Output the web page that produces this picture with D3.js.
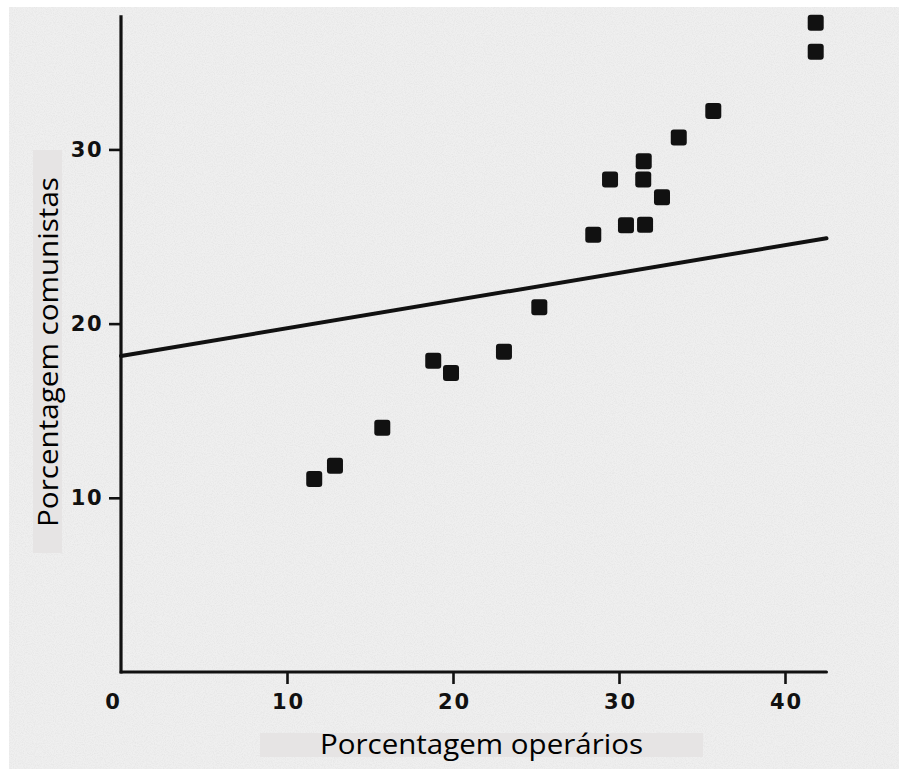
<!DOCTYPE html>
<html>
<head>
<meta charset="utf-8">
<script src="https://cdn.jsdelivr.net/npm/d3@7"></script>
<style>
html,body{margin:0;padding:0;background:#fff;}
svg{display:block;}
</style>
</head>
<body>
<div id="chart"></div>
<script>
// ---- data ----
const xTicks = [0, 10, 20, 30, 40];
const yTicks = [10, 20, 30];
const operarios = [41.85, 41.85, 35.68, 33.60, 31.49, 29.46, 31.46, 32.59, 28.45, 30.42, 31.57, 25.20, 23.07, 18.81, 19.88, 15.74, 12.89, 11.64];
const comunistas = [37.27, 35.61, 32.20, 30.69, 29.32, 28.28, 28.28, 27.25, 25.10, 25.64, 25.68, 20.94, 18.39, 17.87, 17.16, 14.02, 11.84, 11.08];
const fitX = [0, 42.5];
const fitY = [18.14, 24.9];
const xTitle = "Porcentagem operários";
const yTitle = "Porcentagem comunistas";

const W = 899, H = 769;
const svg = d3.select("#chart").append("svg").attr("width", W).attr("height", H);

// paper background
const defs = svg.append("defs");
const f = defs.append("filter").attr("id","paper").attr("x",0).attr("y",0).attr("width","100%").attr("height","100%");
f.append("feTurbulence").attr("type","fractalNoise").attr("baseFrequency","0.9").attr("numOctaves",2).attr("seed",3).attr("result","n");
f.append("feColorMatrix").attr("in","n").attr("type","matrix")
  .attr("values","0 0 0 0 0.55  0 0 0 0 0.55  0 0 0 0 0.55  0 0 0 -1.2 0.75").attr("result","m");
f.append("feComposite").attr("in","m").attr("in2","SourceGraphic").attr("operator","in");

svg.append("rect").attr("x",9).attr("y",7).attr("width",W-9).attr("height",H-7).attr("fill","#efefef");
svg.append("rect").attr("x",9).attr("y",7).attr("width",W-9).attr("height",H-7).attr("fill","#efefef").attr("filter","url(#paper)").attr("opacity",0.35);

const x = d3.scaleLinear().domain([0, 42.5]).range([121, 826.5]);
const y = d3.scaleLinear().domain([0, 37.7]).range([672, 15.3]);

const ink = "#111";

// axes lines
svg.append("line").attr("x1", x(0)).attr("x2", x(0)).attr("y1", y(37.7)).attr("y2", y(0)+1.5)
  .attr("stroke", ink).attr("stroke-width", 3.2);
svg.append("line").attr("x1", x(0)).attr("x2", x(42.5)).attr("y1", y(0)).attr("y2", y(0))
  .attr("stroke", ink).attr("stroke-width", 3).attr("stroke-linecap","round");

// y axis ticks
const yAxis = d3.axisLeft(y).tickValues(yTicks).tickSize(12).tickPadding(6).tickFormat(d3.format("d"));
const gy = svg.append("g").attr("transform", `translate(${x(0)},0)`).call(yAxis);
gy.select(".domain").remove();
gy.selectAll(".tick line").attr("stroke", ink).attr("stroke-width", 2.6);
gy.selectAll(".tick text").attr("fill", ink).attr("font-family","'DejaVu Sans', sans-serif")
  .attr("font-weight","bold").attr("font-size", 21).attr("letter-spacing", 1.5).attr("dx", 0);

// x axis ticks
const xAxis = d3.axisBottom(x).tickValues(xTicks).tickSize(12).tickPadding(10).tickFormat(d3.format("d"));
const gx = svg.append("g").attr("transform", `translate(0,${y(0)})`).call(xAxis);
gx.select(".domain").remove();
gx.selectAll(".tick line").attr("stroke", ink).attr("stroke-width", 2.6)
  .attr("opacity", d => d === 0 ? 0 : 1);
gx.selectAll(".tick text").attr("fill", ink).attr("font-family","'DejaVu Sans', sans-serif")
  .attr("font-weight","bold").attr("font-size", 21).attr("letter-spacing", 2)
  .attr("dx", d => d === 0 ? -8 : 1);

// regression line
svg.append("line").attr("x1", x(fitX[0])).attr("y1", y(fitY[0])).attr("x2", x(fitX[1])).attr("y2", y(fitY[1]))
  .attr("stroke", ink).attr("stroke-width", 4).attr("stroke-linecap","round");

// points
const pts = operarios.map((v, i) => ({x: v, y: comunistas[i]}));
const s = 16;
svg.append("g").selectAll("rect").data(pts).join("rect")
  .attr("x", d => x(d.x) - s/2).attr("y", d => y(d.y) - s/2)
  .attr("width", s).attr("height", s).attr("rx", 3)
  .attr("fill", ink);

// title boxes
svg.append("rect").attr("x", 260).attr("y", 733).attr("width", 443).attr("height", 24).attr("fill", "#e6e4e4");
svg.append("rect").attr("x", 33).attr("y", 150).attr("width", 29).attr("height", 403).attr("fill", "#e6e4e4");

svg.append("text").attr("x", 320).attr("y", 754)
  .attr("font-family","'Open Sans', sans-serif").attr("font-size", 27).attr("fill", "#000")
  .attr("textLength", 323).attr("lengthAdjust","spacingAndGlyphs")
  .text(xTitle);

svg.append("text").attr("transform", "translate(58,527) rotate(-90)")
  .attr("font-family","'Open Sans', sans-serif").attr("font-size", 27).attr("fill", "#000")
  .attr("textLength", 350).attr("lengthAdjust","spacingAndGlyphs")
  .text(yTitle);
</script>
</body>
</html>
